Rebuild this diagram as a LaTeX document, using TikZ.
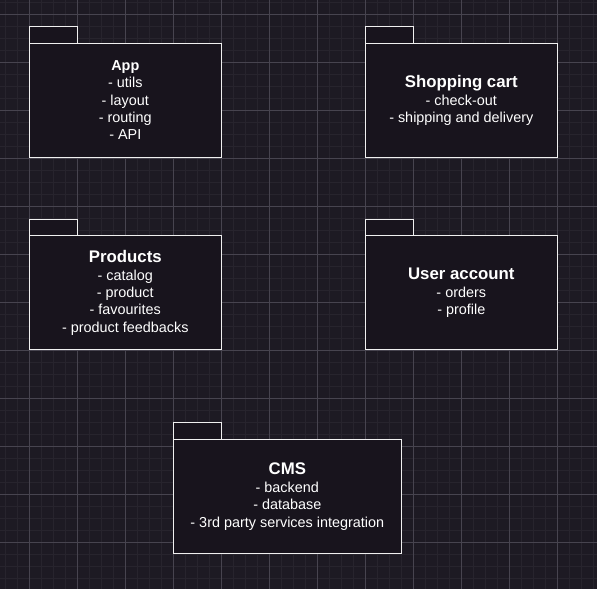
\documentclass[tikz,border=0pt]{standalone}
\usepackage{fontspec}
\setmainfont{Liberation Sans}
\definecolor{canvas}{HTML}{1D1A23}
\definecolor{minorgrid}{HTML}{27242D}
\definecolor{majorgrid}{HTML}{47444F}
\definecolor{pkgfill}{HTML}{18141D}
\definecolor{pkgstroke}{HTML}{F0F0F0}
\tikzset{
  pkgline/.style={draw=pkgstroke, line width=1pt, fill=pkgfill},
  pkgtext/.style={text=white, align=center, inner sep=0pt, font=\fontsize{14.4}{17.28}\selectfont},
}
% package shape: (left, tab top, body width){node name}{text}
\def\umlpackage(#1,#2,#3)#4#5{%
  \draw[pkgline] (#1, #2) rectangle ++(48, 16.6);
  \draw[pkgline] (#1, #2+16.6) rectangle ++(#3, 114);
  \node[pkgtext] (#4) at (#1+#3/2, #2+16.6+57) {#5};
}
\def\pkgtitle#1{{\bfseries\fontsize{16.8}{20.16}\selectfont #1}\\[1pt]}

\begin{document}
\begin{tikzpicture}[x=1pt, y=-1pt]
			%%%%% CANVAS %%%%%
			\fill[canvas] (0, 0) rectangle (597, 589);
			\useasboundingbox (0, 0) rectangle (597, 589);
			
			\foreach \gx in {5.3, 17.3, ..., 597}
				\draw[minorgrid, line width=0.6pt] (\gx, 0) -- (\gx, 589);
			\foreach \gy in {2.3, 14.3, ..., 589}
				\draw[minorgrid, line width=0.6pt] (0, \gy) -- (597, \gy);
			\foreach \gx in {29.3, 77.3, ..., 597}
				\draw[majorgrid, line width=0.7pt] (\gx, 0) -- (\gx, 589);
			\foreach \gy in {14.3, 62.3, ..., 589}
				\draw[majorgrid, line width=0.7pt] (0, \gy) -- (597, \gy);
			
			%%%%% PACKAGES %%%%%
			\umlpackage(29.3, 26.7, 192){app}{{\bfseries App}\\- utils\\- layout\\- routing\\- API}
			
			\umlpackage(365.3, 26.7, 192){cart}{\pkgtitle{Shopping cart}- check-out\\- shipping and delivery}
			
			\umlpackage(29.3, 219, 192){products}{\pkgtitle{Products}- catalog\\- product\\- favourites\\- product feedbacks}
			
			\umlpackage(365.3, 219, 192){account}{\pkgtitle{User account}- orders\\- profile}
			
			\umlpackage(173.3, 422.7, 228){cms}{\pkgtitle{CMS}- backend\\- database\\- 3rd party services integration}
			
			%%%%% END %%%%%
\end{tikzpicture}
\end{document}
